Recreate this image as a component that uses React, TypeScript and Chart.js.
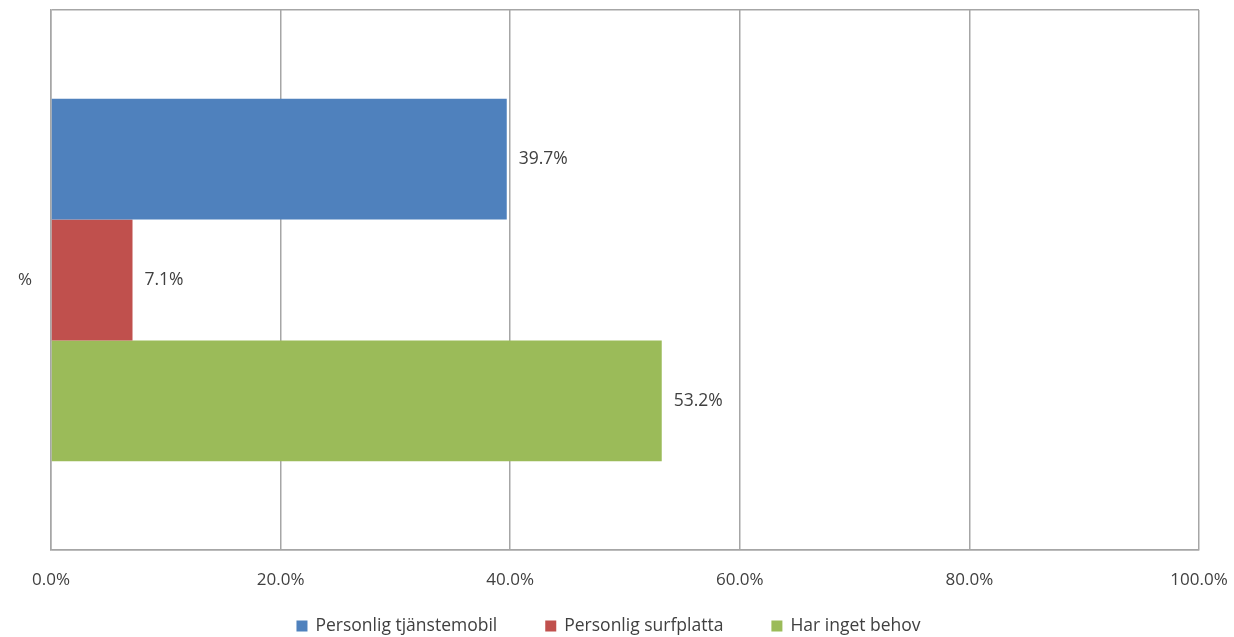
import React, { useEffect, useRef } from "react";
import { Chart, registerables } from "chart.js";

Chart.register(...registerables);

const categories = ["%"];
const seriesNames = ["Personlig tjänstemobil", "Personlig surfplatta", "Har inget behov"];
const seriesValues = [[39.7], [7.1], [53.2]];
const seriesColors = ["#4f81bd", "#c0504d", "#9bbb59"];
const xTicks = [0, 20, 40, 60, 80, 100];

const FONT = "'Open Sans', 'Liberation Sans', sans-serif";
const TEXT = "#404040";

const valueLabels = {
  id: "valueLabels",
  afterDatasetsDraw(chart: any) {
    const ctx = chart.ctx;
    ctx.save();
    ctx.font = `17.5px ${FONT}`;
    ctx.fillStyle = TEXT;
    ctx.textAlign = "left";
    ctx.textBaseline = "middle";
    chart.data.datasets.forEach((ds: any, i: number) => {
      const meta = chart.getDatasetMeta(i);
      meta.data.forEach((bar: any, j: number) => {
        ctx.fillText(`${ds.data[j].toFixed(1)}%`, bar.x + 12, bar.y);
      });
    });
    ctx.restore();
  },
};

const bottomLegend = {
  id: "bottomLegend",
  afterDraw(chart: any) {
    const ctx = chart.ctx;
    ctx.save();
    ctx.font = `17.5px ${FONT}`;
    ctx.textBaseline = "middle";
    ctx.textAlign = "left";
    const box = 11;
    const gapBoxText = 8;
    const gapItems = 48;
    const items = chart.data.datasets.map((ds: any) => ({
      text: ds.label,
      color: ds.backgroundColor,
      w: box + gapBoxText + ctx.measureText(ds.label).width,
    }));
    const total = items.reduce((s: number, it: any) => s + it.w, 0) + gapItems * (items.length - 1);
    let x = 608.5 - total / 2;
    const y = 626;
    items.forEach((it: any) => {
      ctx.fillStyle = it.color;
      ctx.fillRect(x, y - box / 2, box, box);
      ctx.fillStyle = TEXT;
      ctx.fillText(it.text, x + box + gapBoxText, y);
      x += it.w + gapItems;
    });
    ctx.restore();
  },
};

export default function App() {
  const ref = useRef<HTMLCanvasElement>(null);
  useEffect(() => {
    if (!ref.current) return;
    const chart = new Chart(ref.current, {
      type: "bar",
      data: {
        labels: categories,
        datasets: seriesNames.map((name, i) => ({
          label: name,
          data: seriesValues[i],
          backgroundColor: seriesColors[i],
          borderWidth: 0,
          barPercentage: 1,
          categoryPercentage: 0.6716,
        })),
      },
      options: {
        indexAxis: "y",
        animation: false,
        responsive: false,
        maintainAspectRatio: false,
        layout: { padding: { top: 10, right: 35, left: 0, bottom: 0 } },
        plugins: { legend: { display: false }, tooltip: { enabled: false } },
        scales: {
          x: {
            min: 0,
            max: 100,
            afterBuildTicks(scale: any) {
              scale.ticks = xTicks.map((v) => ({ value: v }));
            },
            afterFit(scale: any) {
              scale.height = 87;
              scale.paddingLeft = 0;
              scale.paddingRight = 0;
            },
            grid: { color: "#a6a6a6", lineWidth: 1.5, drawTicks: false },
            border: { display: true, color: "#a6a6a6", width: 1.5 },
            ticks: {
              color: TEXT,
              font: { family: FONT, size: 17 },
              padding: 20,
              maxRotation: 0,
              callback: (v: any) => `${Number(v).toFixed(1)}%`,
            },
          },
          y: {
            afterFit(scale: any) {
              scale.width = 51;
              scale.paddingTop = 0;
              scale.paddingBottom = 0;
            },
            grid: { color: "#a6a6a6", lineWidth: 1.5, drawTicks: false, offset: true },
            border: { display: true, color: "#a6a6a6", width: 1.5 },
            ticks: {
              color: TEXT,
              font: { family: FONT, size: 17 },
              crossAlign: "near",
              padding: 19,
            },
          },
        },
      },
      plugins: [valueLabels, bottomLegend],
    });
    return () => chart.destroy();
  }, []);
  return (
    <div style={{ position: "fixed", left: 0, top: 0, width: 1234, height: 637, background: "#fff" }}>
      <canvas ref={ref} width={1234} height={637} style={{ width: 1234, height: 637 }} />
    </div>
  );
}
